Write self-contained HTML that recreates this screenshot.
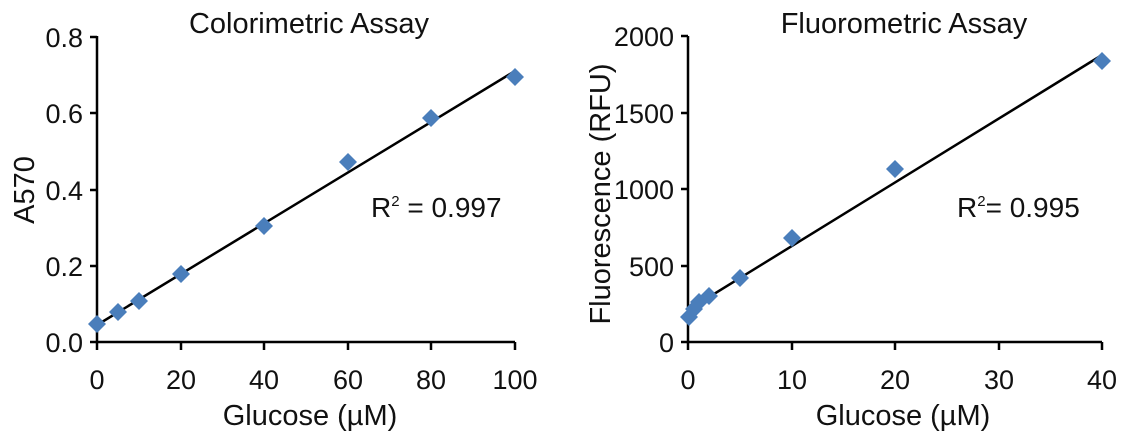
<!DOCTYPE html>
<html><head><style>body{margin:0;background:#fff}svg{display:block}text{font-family:"Liberation Sans",sans-serif;fill:#111}</style></head><body>
<svg width="1127" height="433" viewBox="0 0 1127 433">
<defs><path id="d" d="M0,-9L9,0L0,9L-9,0Z" fill="#4a7ebb"/></defs>
<!-- Left chart -->
<text x="309" y="33" font-size="29" text-anchor="middle">Colorimetric Assay</text>
<g stroke="#000" stroke-width="2.5" fill="none">
<path d="M97,36V342H515"/>
<path d="M90,37H97M90,113H97M90,190H97M90,266H97M90,342H97"/>
<path d="M97,342v8M181,342v8M264,342v8M348,342v8M431,342v8M515,342v8"/>
</g>
<g font-size="27" text-anchor="end">
<text x="83" y="47">0.8</text><text x="83" y="123">0.6</text><text x="83" y="200">0.4</text><text x="83" y="276">0.2</text><text x="83" y="352">0.0</text>
</g>
<g font-size="27" text-anchor="middle">
<text x="97" y="389">0</text><text x="181" y="389">20</text><text x="264" y="389">40</text><text x="348" y="389">60</text><text x="431" y="389">80</text><text x="515" y="389">100</text>
</g>
<text x="310" y="425" font-size="29" text-anchor="middle">Glucose (µM)</text>
<text transform="translate(34,190) rotate(-90)" font-size="29" text-anchor="middle">A570</text>
<text x="371" y="217" font-size="28">R<tspan font-size="15" dy="-11">2</tspan><tspan dy="11"> = 0.997</tspan></text>
<line x1="97" y1="325" x2="515" y2="71" stroke="#000" stroke-width="2.5"/>
<use href="#d" x="97" y="324"/><use href="#d" x="118" y="312"/><use href="#d" x="139" y="301"/><use href="#d" x="181" y="274"/><use href="#d" x="264" y="226"/><use href="#d" x="348" y="162"/><use href="#d" x="431" y="118"/><use href="#d" x="515" y="77"/>
<!-- Right chart -->
<text x="904" y="33" font-size="29" text-anchor="middle">Fluorometric Assay</text>
<g stroke="#000" stroke-width="2.5" fill="none">
<path d="M688,36V342H1102"/>
<path d="M681,36H688M681,113H688M681,189H688M681,266H688M681,342H688"/>
<path d="M688,342v8M792,342v8M895,342v8M999,342v8M1102,342v8"/>
</g>
<g font-size="27" text-anchor="end">
<text x="674" y="46">2000</text><text x="674" y="123">1500</text><text x="674" y="199">1000</text><text x="674" y="276">500</text><text x="674" y="352">0</text>
</g>
<g font-size="27" text-anchor="middle">
<text x="688" y="389">0</text><text x="792" y="389">10</text><text x="895" y="389">20</text><text x="999" y="389">30</text><text x="1102" y="389">40</text>
</g>
<text x="903" y="425" font-size="29" text-anchor="middle">Glucose (µM)</text>
<text transform="translate(610,194) rotate(-90)" font-size="29" text-anchor="middle">Fluorescence (RFU)</text>
<text x="957" y="217" font-size="28">R<tspan font-size="15" dy="-11">2</tspan><tspan dy="11">= 0.995</tspan></text>
<line x1="688" y1="310" x2="1102" y2="55" stroke="#000" stroke-width="2.5"/>
<use href="#d" x="689" y="317"/><use href="#d" x="694" y="309"/><use href="#d" x="699" y="302"/><use href="#d" x="709" y="296"/><use href="#d" x="740" y="278"/><use href="#d" x="792" y="238"/><use href="#d" x="895" y="169"/><use href="#d" x="1102" y="61"/>
</svg>
</body></html>
